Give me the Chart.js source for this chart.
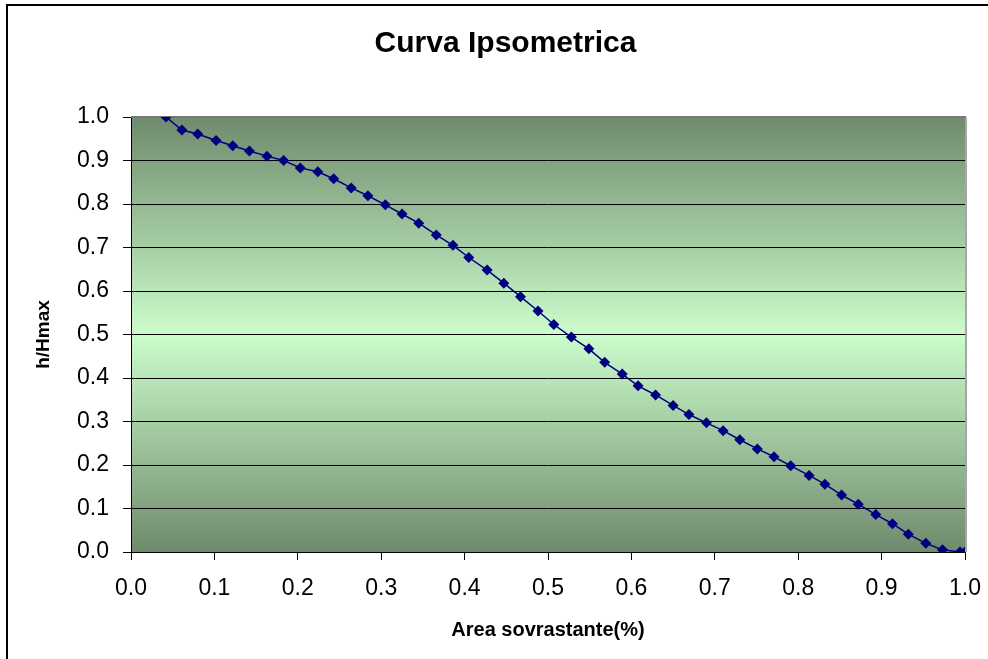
<!DOCTYPE html>
<html>
<head>
<meta charset="utf-8">
<script src="https://cdn.jsdelivr.net/npm/chart.js@4/dist/chart.umd.min.js"></script>
<style>
  html, body { margin: 0; padding: 0; background: #fff; }
  #chart { display: block; }
</style>
</head>
<body>
<canvas id="chart" width="988" height="659"></canvas>
<script>
// area fraction (x) and relative height h/Hmax (y)
const areaValues = [0.042, 0.061, 0.080, 0.102, 0.122, 0.142, 0.163, 0.183, 0.203, 0.224,
  0.243, 0.264, 0.284, 0.305, 0.325, 0.345, 0.366, 0.386, 0.405, 0.427,
  0.447, 0.467, 0.488, 0.507, 0.528, 0.549, 0.568, 0.589, 0.608, 0.629,
  0.650, 0.669, 0.690, 0.710, 0.730, 0.751, 0.771, 0.791, 0.813, 0.832,
  0.852, 0.872, 0.893, 0.913, 0.932, 0.953, 0.973, 0.994, 1.0];
const heightValues = [1.0, 0.970, 0.961, 0.946, 0.934, 0.922, 0.910, 0.900, 0.883, 0.874,
  0.858, 0.837, 0.819, 0.798, 0.777, 0.756, 0.729, 0.705, 0.677, 0.648,
  0.618, 0.587, 0.554, 0.523, 0.494, 0.467, 0.436, 0.409, 0.382, 0.361,
  0.337, 0.316, 0.297, 0.279, 0.258, 0.237, 0.219, 0.198, 0.176, 0.156,
  0.131, 0.110, 0.086, 0.065, 0.041, 0.020, 0.005, 0.0, 0.0];
const chartTitle = 'Curva Ipsometrica';
const xAxisTitle = 'Area sovrastante(%)';
const yAxisTitle = 'h/Hmax';

const points = areaValues.map((x, i) => ({ x: x, y: heightValues[i] }));
const FONT = '"Liberation Sans", Arial, sans-serif';

// gradient plot background + frame lines
const plotBackground = {
  id: 'plotBackground',
  afterLayout(chart) {
    // centre the title over the whole picture, not just the padded box
    const t = chart.titleBlock;
    if (t) { t.left = 23; t.right = 988; }
  },
  beforeDraw(chart) {
    const { ctx, chartArea: a } = chart;
    ctx.save();
    const g = ctx.createLinearGradient(0, a.top, 0, a.bottom);
    g.addColorStop(0, '#6f8a6d');
    g.addColorStop(0.5, '#ccfdcc');
    g.addColorStop(1, '#6f8a6d');
    ctx.fillStyle = g;
    ctx.fillRect(a.left, a.top, a.right - a.left, a.bottom - a.top);
    ctx.restore();
  },
  afterDraw(chart) {
    const { ctx } = chart;
    ctx.save();
    // outer chart border (left and top only visible)
    ctx.strokeStyle = '#000';
    ctx.lineWidth = 2;
    ctx.beginPath();
    ctx.moveTo(7, 659);
    ctx.lineTo(7, 5);
    ctx.lineTo(988, 5);
    ctx.stroke();
    ctx.restore();
  },
  beforeDatasetsDraw(chart) {
    const { ctx, chartArea: a } = chart;
    ctx.save();
    ctx.lineWidth = 2;
    ctx.strokeStyle = '#777';
    ctx.beginPath();
    ctx.moveTo(a.left, a.top);
    ctx.lineTo(a.right + 1, a.top);
    ctx.stroke();
    ctx.strokeStyle = '#a6a6a6';
    ctx.beginPath();
    ctx.moveTo(a.right + 1, a.top);
    ctx.lineTo(a.right + 1, a.bottom);
    ctx.stroke();
    ctx.restore();
  }
};

new Chart(document.getElementById('chart'), {
  type: 'scatter',
  data: {
    datasets: [{
      label: yAxisTitle,
      data: points,
      showLine: true,
      borderColor: '#000080',
      borderWidth: 1.5,
      backgroundColor: '#000080',
      pointStyle: 'rectRot',
      pointRadius: 5.5,
      pointBorderWidth: 0
    }]
  },
  options: {
    responsive: false,
    animation: false,
    devicePixelRatio: 1,
    layout: { padding: { left: 0, right: 23, top: 0, bottom: 0 } },
    plugins: {
      legend: { display: false },
      tooltip: { enabled: false },
      title: {
        display: true,
        text: chartTitle,
        color: '#000',
        font: { family: FONT, size: 30, weight: 'bold' },
        padding: { top: 26, bottom: 55 }
      }
    },
    scales: {
      x: {
        type: 'linear',
        min: 0,
        max: 1,
        afterFit(scale) {
          scale.height = 107;
          scale.paddingLeft = 0;
          scale.paddingRight = 0;
        },
        ticks: {
          stepSize: 0.1,
          color: '#000',
          padding: 15,
          maxRotation: 0,
          font: { family: FONT, size: 23 },
          callback: v => v.toFixed(1)
        },
        grid: { drawOnChartArea: false, drawTicks: true, tickLength: 8, color: '#000' },
        border: { color: '#000', width: 1 },
        title: {
          display: true,
          text: xAxisTitle,
          color: '#000',
          font: { family: FONT, size: 20, weight: 'bold' },
          padding: { top: 0, bottom: 17 }
        }
      },
      y: {
        type: 'linear',
        min: 0,
        max: 1,
        afterFit(scale) { scale.width = 131; },
        ticks: {
          stepSize: 0.1,
          color: '#000',
          padding: 14,
          font: { family: FONT, size: 23 },
          callback: v => v.toFixed(1)
        },
        grid: { color: '#000', lineWidth: 1, tickLength: 8 },
        border: { color: '#000', width: 1 },
        title: {
          display: true,
          text: yAxisTitle,
          color: '#000',
          font: { family: FONT, size: 19, weight: 'bold' },
          padding: { top: 32, bottom: 0 }
        }
      }
    }
  },
  plugins: [plotBackground]
});
</script>
</body>
</html>
